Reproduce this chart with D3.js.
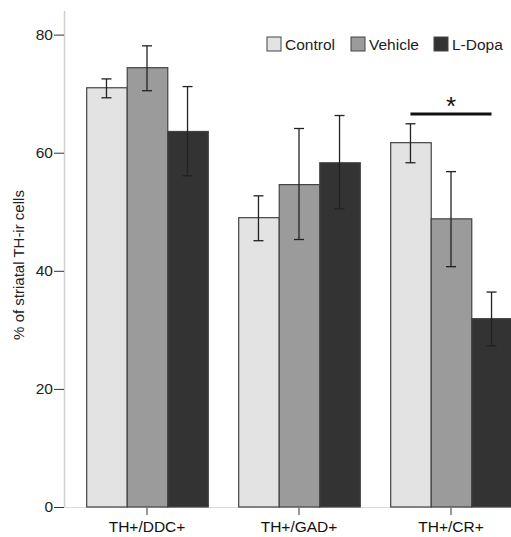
<!DOCTYPE html>
<html>
<head>
<meta charset="utf-8">
<script src="https://cdn.jsdelivr.net/npm/d3@7"></script>
<style>
  body { margin: 0; background: #fff; }
  svg { display: block; font-family: "Liberation Sans", Arial, sans-serif; }
</style>
</head>
<body>
<div id="chart"></div>
<script>
// data
const groups = ['TH+/DDC+', 'TH+/GAD+', 'TH+/CR+'];
const seriesNames = ['Control', 'Vehicle', 'L-Dopa'];
const seriesColors = ['#e3e3e3', '#9b9b9b', '#333333'];
const means = [
    [71.0, 49.0, 61.7],   // Control
    [74.4, 54.6, 48.8],   // Vehicle
    [63.6, 58.3, 31.9]    // L-Dopa
];
const errLow = [
    [69.3, 45.1, 58.3],
    [70.5, 45.3, 40.7],
    [56.1, 50.5, 27.3]
];
const errHigh = [
    [72.5, 52.7, 64.9],
    [78.1, 64.1, 56.8],
    [71.2, 66.3, 36.4]
];
const yTicks = [0, 20, 40, 60, 80];

const width = 511, height = 537;
const fontSize = 15.5;
const svg = d3.select('#chart').append('svg')
    .attr('width', width)
    .attr('height', height);

const y = d3.scaleLinear().domain([0, 84]).range([507, 11]);
const x = d3.scaleBand().domain(groups).range([71, 527])
    .paddingInner(0.2).paddingOuter(0.1);
const xSub = d3.scaleBand().domain(seriesNames).range([0, x.bandwidth()]);

// y axis
const yAxis = svg.append('g')
    .attr('transform', 'translate(64,0)')
    .call(d3.axisLeft(y).tickValues(yTicks).tickSize(10).tickPadding(1));
yAxis.select('.domain').attr('stroke', '#d0d0d0').attr('stroke-width', 1.5)
    .attr('d', `M0.5,${y(0)}V${y(84)}`);
yAxis.selectAll('.tick line').attr('stroke', '#333');
yAxis.selectAll('.tick text').attr('font-size', fontSize).attr('fill', '#222')
    .attr('font-family', '"Liberation Sans", Arial, sans-serif');

// x axis
const xAxis = svg.append('g')
    .attr('transform', `translate(0,${y(0)})`)
    .call(d3.axisBottom(x).tickSize(7).tickPadding(7));
xAxis.select('.domain').attr('stroke', '#dcdcdc').attr('d', `M64,0.5H${width}`);
xAxis.selectAll('.tick line').attr('stroke', '#333').attr('transform', 'translate(0,1)');
xAxis.selectAll('.tick text').attr('font-size', fontSize).attr('fill', '#111')
    .attr('font-family', '"Liberation Sans", Arial, sans-serif');

// y label
svg.append('text')
    .attr('transform', `translate(24,${(y(0) + y(84)) / 2 + 6}) rotate(-90)`)
    .attr('text-anchor', 'middle')
    .attr('font-size', 15)
    .attr('fill', '#222')
    .text('% of striatal TH-ir cells');

// bars
const barData = [];
seriesNames.forEach((s, si) => {
    groups.forEach((g, gi) => {
        barData.push({ s, si, g, v: means[si][gi], lo: errLow[si][gi], hi: errHigh[si][gi] });
    });
});

svg.append('g').selectAll('rect')
    .data(barData)
    .enter()
    .append('rect')
    .attr('x', d => x(d.g) + xSub(d.s) + 0.5)
    .attr('y', d => y(d.v))
    .attr('width', xSub.bandwidth())
    .attr('height', d => y(0) - y(d.v))
    .attr('fill', d => seriesColors[d.si])
    .attr('stroke', '#444')
    .attr('stroke-width', 1.2);

// error bars
const eb = svg.append('g').attr('stroke', '#222').attr('stroke-width', 1.3);
barData.forEach(d => {
    const cx = x(d.g) + xSub(d.s) + xSub.bandwidth() / 2;
    eb.append('line').attr('x1', cx).attr('x2', cx).attr('y1', y(d.lo)).attr('y2', y(d.hi));
    eb.append('line').attr('x1', cx - 5).attr('x2', cx + 5).attr('y1', y(d.lo)).attr('y2', y(d.lo));
    eb.append('line').attr('x1', cx - 5).attr('x2', cx + 5).attr('y1', y(d.hi)).attr('y2', y(d.hi));
});

// significance bar over TH+/CR+ Control vs L-Dopa
const sigX1 = x('TH+/CR+') + xSub('Control') + xSub.bandwidth() / 2;
const sigX2 = x('TH+/CR+') + xSub('L-Dopa') + xSub.bandwidth() / 2;
svg.append('line')
    .attr('x1', sigX1).attr('x2', sigX2)
    .attr('y1', 114).attr('y2', 114)
    .attr('stroke', '#111').attr('stroke-width', 3);
svg.append('text')
    .attr('x', (sigX1 + sigX2) / 2).attr('y', 115)
    .attr('text-anchor', 'middle')
    .attr('font-size', 26)
    .attr('fill', '#111')
    .text('*');

// legend
const legX = [267, 351, 434];
const legend = svg.append('g');
seriesNames.forEach((s, i) => {
    legend.append('rect')
        .attr('x', legX[i]).attr('y', 37)
        .attr('width', 14).attr('height', 14)
        .attr('fill', seriesColors[i])
        .attr('stroke', '#444').attr('stroke-width', 1);
    legend.append('text')
        .attr('x', legX[i] + 18).attr('y', 50)
        .attr('font-size', fontSize)
        .attr('fill', '#222')
        .text(s);
});
</script>
</body>
</html>
